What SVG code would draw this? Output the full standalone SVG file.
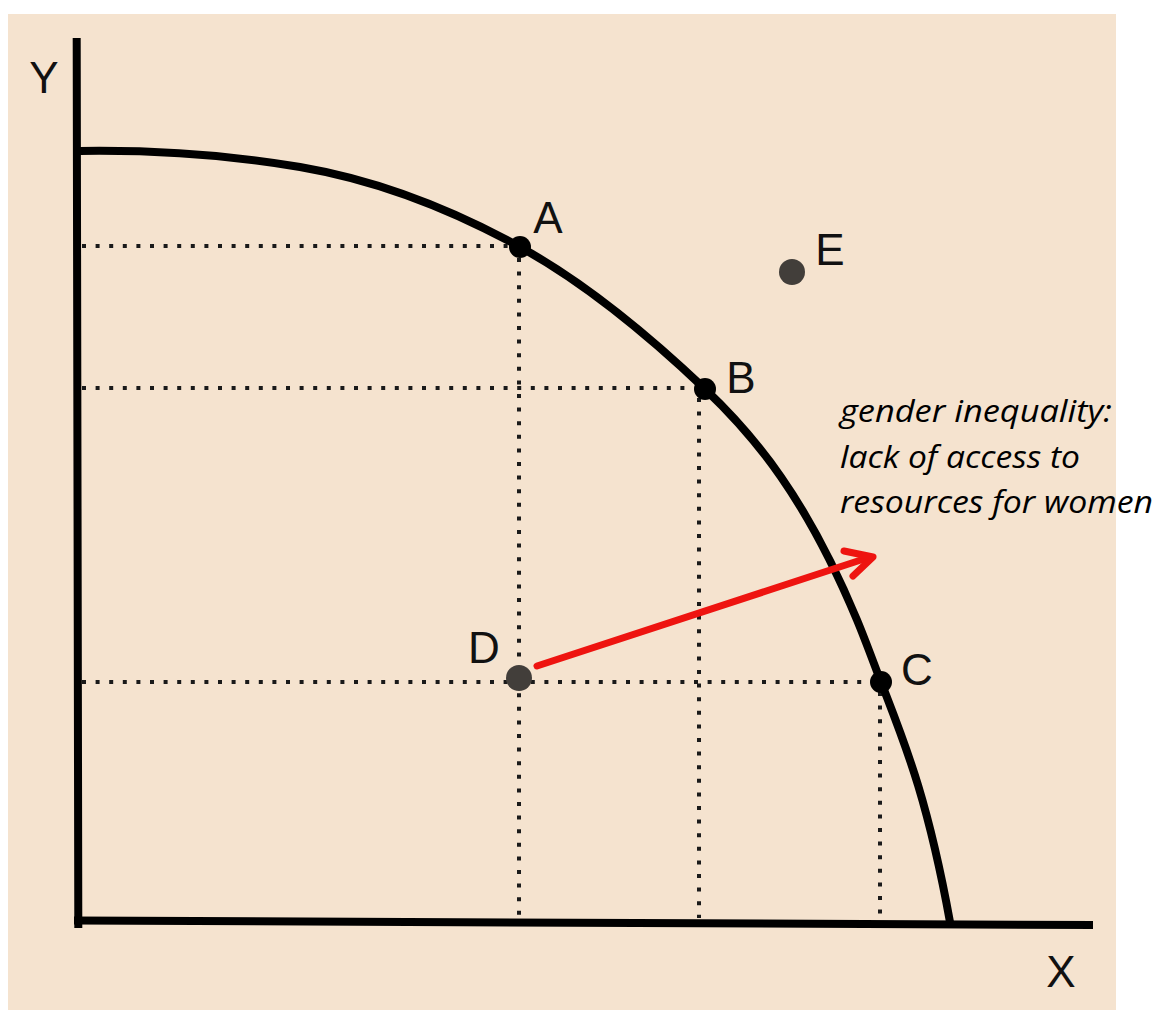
<svg xmlns="http://www.w3.org/2000/svg" width="1160" height="1010" viewBox="0 0 1160 1010">
<style>
.lbl{font-family:"Liberation Sans",Arial,sans-serif;font-size:44px;fill:#111}
.note{font-family:"Open Sans","Noto Sans",sans-serif;font-style:italic;font-size:31px;fill:#000}
.dot{stroke:#1a1a1a;stroke-width:4;stroke-dasharray:4 9.6;fill:none}
.axis{stroke:#000;stroke-width:8;fill:none}
.pt{fill:#000}
.pt2{fill:#423e3a}
</style>
<rect x="0" y="0" width="1160" height="1010" fill="#ffffff"/>
<rect x="8" y="14" width="1108" height="996" fill="#f5e3cf"/>
<g id="connectors">
<line class="dot" x1="82" y1="246" x2="508" y2="246"/>
<line class="dot" x1="82" y1="388" x2="694" y2="388"/>
<line class="dot" x1="82" y1="682" x2="870" y2="682"/>
<line class="dot" x1="519" y1="258" x2="519" y2="918"/>
<line class="dot" x1="699" y1="398" x2="699" y2="918"/>
<line class="dot" x1="880" y1="692" x2="880" y2="918"/>
<path id="frontier" class="axis" d="M80,151 C153,150 227,154.6 300,167 C373.3,179.5 446.7,206.7 520,247 C581.7,280.9 643.3,330.4 705,389 C755.7,437.1 806.3,498.4 857,620 C865,639.2 873,661.2 881,682 C904,741.8 927,795.5 950,922"/>
<g id="arrow" stroke="#ee1410" stroke-width="7" fill="none" stroke-linecap="round" stroke-linejoin="round">
<line x1="537" y1="666" x2="870" y2="557"/>
<path d="M844,551 L873,557 L853,576"/>
</g>
</g>
<g id="axes">
<line id="y-axis" class="axis" x1="76.7" y1="42" x2="78.3" y2="924" stroke-linecap="square"/>
<line id="x-axis" class="axis" x1="74" y1="920.5" x2="1093" y2="925"/>
<text class="lbl" x="44" y="93" text-anchor="middle">Y</text>
<text class="lbl" x="1061" y="987" text-anchor="middle">X</text>
</g>
<g id="node-A"><circle class="pt" cx="520" cy="247" r="11"/><text class="lbl" x="548" y="233" text-anchor="middle">A</text></g>
<g id="node-B"><circle class="pt" cx="705" cy="389" r="11"/><text class="lbl" x="741" y="393" text-anchor="middle">B</text></g>
<g id="node-C"><circle class="pt" cx="881" cy="682" r="11"/><text class="lbl" x="917" y="685" text-anchor="middle">C</text></g>
<g id="node-D"><circle class="pt2" cx="519" cy="678" r="13"/><text class="lbl" x="484" y="663" text-anchor="middle">D</text></g>
<g id="node-E"><circle class="pt2" cx="792" cy="272" r="13"/><text class="lbl" x="830" y="265" text-anchor="middle">E</text></g>
<g id="note">
<text class="note" x="840" y="422" textLength="272" lengthAdjust="spacingAndGlyphs">gender inequality:</text>
<text class="note" x="840" y="468" textLength="240" lengthAdjust="spacingAndGlyphs">lack of access to</text>
<text class="note" x="840" y="513" textLength="313" lengthAdjust="spacingAndGlyphs">resources for women</text>
</g>
</svg>
